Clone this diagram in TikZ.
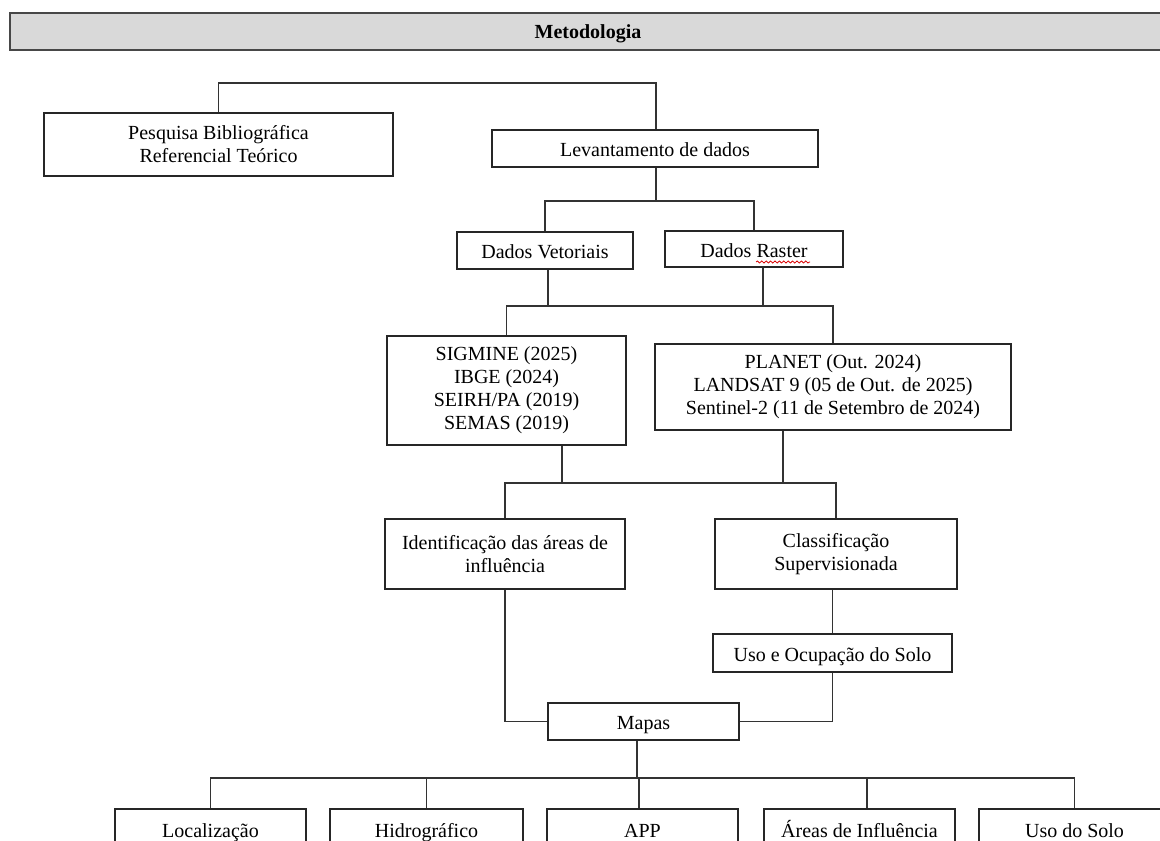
\documentclass[tikz,border=0pt]{standalone}
\usepackage{fontspec}
\setmainfont{Liberation Serif}
\usetikzlibrary{decorations.pathmorphing}
\begin{document}
\begin{tikzpicture}[x=0.5pt,y=-0.5pt,
  box/.style={draw=black!85, line width=0.75pt, inner sep=0pt, align=center,
    font=\fontsize{10}{11.5}\selectfont, fill=white},
  one/.style={text height=8.4pt, text depth=0.2pt},
  conn/.style={draw=black!80, line width=0.75pt},
  hdr/.style={draw=black!72, line width=1.3pt, fill=black!15, inner sep=0pt,
    font=\fontsize{10}{12}\selectfont\bfseries, text height=8pt, text depth=0.6pt},
  squig/.style={draw=red!85!black, line width=0.4pt, decorate,
    decoration={snake, amplitude=0.5pt, segment length=2.2pt}}]
\useasboundingbox (0,0) rectangle (1160,840);
\clip (0,0) rectangle (1160,840);

% header
\node[hdr, minimum width=578pt, minimum height=18.5pt] (hd) at (588,31.5) {Metodologia};

% boxes
\node[box, minimum width=174.5pt, minimum height=31.5pt] (pesq) at (218.5,144.5) {Pesquisa Bibliográfica\\Referencial Teórico};
\node[box, one, minimum width=163pt, minimum height=18.5pt] (lev) at (655,148.5) {Levantamento de dados};
\node[box, one, minimum width=88pt, minimum height=18.5pt] (vet) at (545,250.5) {Dados Vetoriais};
\node[box, one, minimum width=89pt, minimum height=18pt] (ras) at (754,249) {Dados Raster};
\node[box, minimum width=119.5pt, minimum height=54.5pt] (sig) at (506.5,390.5) {SIGMINE (2025)\\IBGE (2024)\\SEIRH/PA (2019)\\SEMAS (2019)};
\node[box, minimum width=178pt, minimum height=43pt] (pla) at (833,387) {PLANET (Out. 2024)\\LANDSAT 9 (05 de Out. de 2025)\\Sentinel-2 (11 de Setembro de 2024)};
\node[box, minimum width=120pt, minimum height=35pt] (idf) at (505,554) {Identificação das áreas de\\influência};
\node[box, minimum width=121pt, minimum height=35pt] (cla) at (836,554) {Classificação\\Supervisionada};
\node[box, one, minimum width=119.5pt, minimum height=19pt] (uso) at (832.5,653) {Uso e Ocupação do Solo};
\node[box, one, minimum width=95.5pt, minimum height=18.5pt] (map) at (643.5,721.5) {Mapas};
\node[box, one, minimum width=95.5pt, minimum height=20pt] (loc) at (210.5,829) {Localização};
\node[box, one, minimum width=96.5pt, minimum height=20pt] (hid) at (426.5,829) {Hidrográfico};
\node[box, one, minimum width=95.5pt, minimum height=20pt] (app) at (642.5,829) {APP};
\node[box, one, minimum width=95.5pt, minimum height=20pt] (are) at (859.5,829) {Áreas de Influência};
\node[box, one, minimum width=95.5pt, minimum height=20pt] (usl) at (1074.5,829) {Uso do Solo};

% spell-check underline
\draw[squig] (756,262) -- (810,262);

% connectors
\coordinate (j0) at (656,83);
\draw[conn] (pesq.north) |- (j0) -- (lev.north -| j0);

\coordinate (j1) at (656,201);
\draw[conn] (lev.south -| j1) -- (j1);
\draw[conn] (vet.north) |- (j1) -| (ras.north);

\coordinate (j2) at (0,306);
\draw[conn] ([xshift=1.5pt]vet.south) -- ([xshift=1.5pt]vet.south |- j2);
\draw[conn] ([xshift=4.5pt]ras.south) -- ([xshift=4.5pt]ras.south |- j2);
\draw[conn] (sig.north) |- (j2 -| pla.north) -- (pla.north);

\coordinate (j3) at (0,483);
\draw[conn] ([xshift=27.75pt]sig.south) -- ([xshift=27.75pt]sig.south |- j3);
\draw[conn] ([xshift=-25pt]pla.south) -- ([xshift=-25pt]pla.south |- j3);
\draw[conn] (idf.north) |- (j3 -| cla.north) -- (cla.north);

\draw[conn] (cla.south -| uso.north) -- (uso.north);
\draw[conn] (uso.south) |- (map.east);
\draw[conn] (idf.south) |- (map.west);

\coordinate (j4) at (0,778);
\draw[conn] ([xshift=-3.25pt]map.south) -- ([xshift=-3.25pt]map.south |- j4);
\draw[conn] (loc.north) |- (j4 -| usl.north) -- (usl.north);
\draw[conn] (hid.north) -- (hid.north |- j4);
\draw[conn] ([xshift=-1.75pt]app.north) -- ([xshift=-1.75pt]app.north |- j4);
\draw[conn] ([xshift=3.75pt]are.north) -- ([xshift=3.75pt]are.north |- j4);
\end{tikzpicture}
\end{document}
